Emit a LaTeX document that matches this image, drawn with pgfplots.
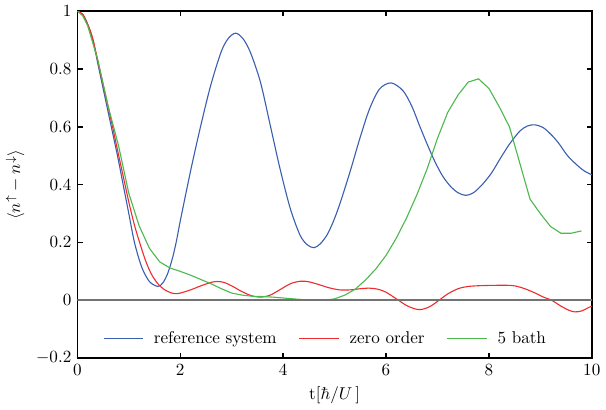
\documentclass[border=0pt]{standalone}
\usepackage{pgfplots}
\pgfplotsset{compat=1.18}
\definecolor{cblue}{HTML}{3A5FB0}
\definecolor{cred}{HTML}{EE2E2E}
\definecolor{cgreen}{HTML}{4DB84D}
\begin{document}
\begin{tikzpicture}
\begin{axis}[
  scale only axis,
  width=301pt, height=203pt,
  xmin=0, xmax=10, ymin=-0.2, ymax=1,
  xtick={0,2,4,6,8,10},
  ytick={-0.2,0,0.2,0.4,0.6,0.8,1},
  axis line style={line width=1pt},
  tick style={line width=0.8pt, black},
  major tick length=3pt,
  xlabel={t$[\hbar/U\,]$},
  ylabel={$\langle n^{\uparrow}-n^{\downarrow}\rangle$},
  legend columns=3,
  legend style={draw=none, fill=none, at={(0.484,0.015)}, anchor=south,
    /tikz/every even column/.append style={column sep=11pt}},
  legend image code/.code={\draw[#1] (0pt,0pt) -- (23pt,0pt); \path (27pt,0pt);},
  every axis plot/.append style={line width=0.65pt},
]
\addplot[cblue, smooth, forget plot] coordinates {
(0,1.0) (0.1,0.99) (0.2,0.955) (0.3,0.9) (0.42,0.8) (0.54,0.7) (0.66,0.6)
(0.78,0.5) (0.89,0.4) (1.0,0.3) (1.11,0.2) (1.25,0.115) (1.4,0.065) (1.564,0.048)
(1.66,0.06) (1.75,0.09) (1.84,0.14) (1.92,0.2) (2.01,0.283) (2.21,0.455) (2.40,0.605) (2.59,0.742)
(2.79,0.857) (2.93,0.905) (3.076,0.924) (3.22,0.905) (3.365,0.857) (3.56,0.754) (3.75,0.605)
(3.94,0.455) (4.14,0.317) (4.33,0.225) (4.47,0.192) (4.60,0.182) (4.72,0.195)
(4.85,0.225) (4.97,0.27) (5.10,0.332) (5.30,0.444) (5.49,0.559) (5.68,0.662) (5.875,0.731)
(6.10,0.752) (6.33,0.725) (6.5,0.672) (6.65,0.605) (6.8,0.54) (6.95,0.48)
(7.1,0.43) (7.25,0.395) (7.4,0.372) (7.55,0.363) (7.7,0.372) (7.87,0.40)
(8.05,0.44) (8.22,0.49) (8.4,0.54) (8.6,0.585) (8.75,0.603) (8.89,0.607)
(9.05,0.598) (9.2,0.575) (9.35,0.545) (9.53,0.5) (9.7,0.47) (9.85,0.448) (10,0.434)
};
\addplot[cred, smooth, forget plot] coordinates {
(0,1.0) (0.1,0.99) (0.2,0.955) (0.3,0.905) (0.42,0.81) (0.54,0.715) (0.66,0.62)
(0.78,0.52) (0.89,0.43) (1.0,0.34) (1.11,0.26) (1.21,0.2) (1.33,0.135) (1.45,0.087)
(1.6,0.05) (1.75,0.031) (1.886,0.023) (2.0,0.025) (2.2,0.036) (2.4,0.05)
(2.6,0.062) (2.72,0.065) (2.85,0.062) (3.0,0.05) (3.2,0.03) (3.4,0.015)
(3.57,0.011) (3.75,0.018) (3.95,0.038) (4.15,0.058) (4.34,0.066) (4.5,0.064)
(4.7,0.054) (4.9,0.043) (5.1,0.036) (5.3,0.036) (5.5,0.04) (5.68,0.042)
(5.85,0.038) (6.0,0.028) (6.2,0.005) (6.4,-0.018) (6.55,-0.029) (6.68,-0.032)
(6.85,-0.022) (7.03,0.0) (7.2,0.022) (7.4,0.04) (7.6,0.048) (7.9,0.051)
(8.3,0.052) (8.5,0.05) (8.7,0.04) (8.9,0.025) (9.05,0.012) (9.22,0.0)
(9.4,-0.02) (9.55,-0.034) (9.67,-0.04) (9.8,-0.037) (9.94,-0.025) (10,-0.02)
};
\addplot[cgreen, forget plot] coordinates {
(0,1.0) (0.1,0.985) (0.2,0.95) (0.4,0.83) (0.6,0.67) (0.8,0.535) (1.0,0.37)
(1.2,0.258) (1.4,0.18) (1.6,0.133) (1.8,0.112) (2.0,0.1) (2.2,0.087) (2.4,0.072)
(2.6,0.057) (2.8,0.04) (3.0,0.025) (3.2,0.018) (3.4,0.014) (3.6,0.013)
(3.8,0.011) (4.0,0.008) (4.2,0.005) (4.4,0.002) (4.6,0.0) (4.8,0.0) (5.0,0.005)
(5.2,0.018) (5.4,0.038) (5.6,0.07) (5.8,0.108) (6.0,0.155) (6.2,0.215)
(6.4,0.285) (6.6,0.365) (6.8,0.455) (7.0,0.56) (7.2,0.65) (7.4,0.71)
(7.6,0.755) (7.8,0.766) (8.0,0.733) (8.2,0.67) (8.4,0.6) (8.6,0.475)
(8.8,0.35) (9.0,0.30) (9.2,0.255) (9.4,0.232) (9.6,0.232) (9.8,0.24)
};
\addplot[gray!90!black, line width=1.1pt, forget plot] coordinates {(0,0) (10,0)};
\addlegendimage{cblue, line width=0.65pt}
\addlegendentry{reference system}
\addlegendimage{cred, line width=0.65pt}
\addlegendentry{zero order}
\addlegendimage{cgreen, line width=0.65pt}
\addlegendentry{5 bath}
\end{axis}
\end{tikzpicture}
\end{document}
